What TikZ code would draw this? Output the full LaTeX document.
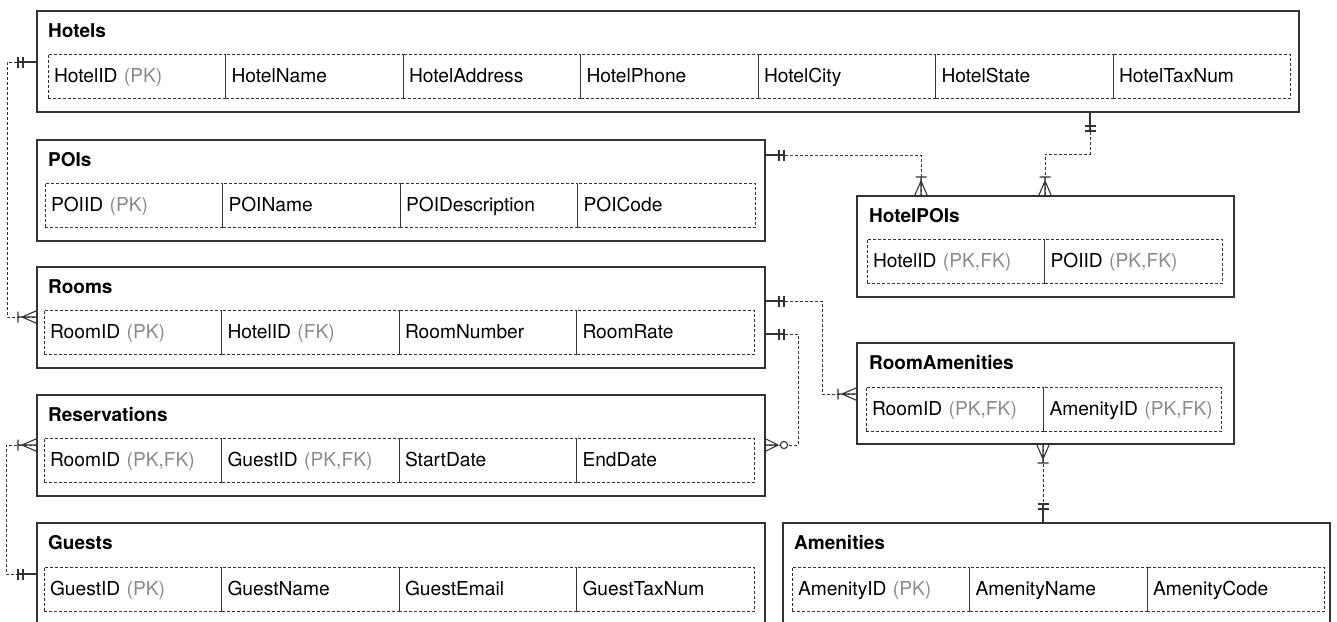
\documentclass[tikz,border=0pt]{standalone}
\usepackage{fontspec}
\setmainfont{TeX Gyre Heros}
\usetikzlibrary{positioning}

\definecolor{edge}{HTML}{333333}
\definecolor{keygray}{HTML}{8a8a8a}
\newcommand{\key}[1]{{\color{keygray}(#1)}}

\tikzset{
  entity/.style={draw=edge, line width=1.1pt, rectangle, anchor=north west,
    minimum width=728pt, minimum height=101pt, inner sep=0pt, outer sep=0pt},
  entname/.style={anchor=base west, inner sep=0pt, font=\fontsize{19}{22}\selectfont\bfseries},
  field/.style={draw=edge, line width=0.8pt, dash pattern=on 3pt off 2pt, rectangle,
    anchor=north west, text width=165.5pt, inner xsep=6pt, inner ysep=0pt, outer sep=0pt,
    minimum height=44pt, text height=13.6pt, text depth=0pt, align=left,
    font=\fontsize{19.2}{22}\selectfont},
  link/.style={draw=edge, line width=1pt, dash pattern=on 3pt off 2pt},
  stub/.style={draw=edge, line width=1.1pt, solid},
  exactlyone/.pic={\draw[stub] (0,0) -- (20,0) (14,-5.5) -- (14,5.5) (19,-5.5) -- (19,5.5);},
  onemany/.pic={\draw[stub] (0,0) -- (19,0) (19,-5.5) -- (19,5.5) (0,-6.5) -- (15,0) -- (0,6.5);},
  zeromany/.pic={\draw[stub] (0,0) -- (13,0) (0,-6.5) -- (13,0) -- (0,6.5);
    \draw[stub, fill=white] (19,0) circle (3.6);}
}

\begin{document}
\begin{tikzpicture}[x=1pt, y=1pt]
  \useasboundingbox (0,0) rectangle (1337,-621);

  % Hotels
  \node[entity, minimum width=1262pt] (hotels) at (37,-11) {};
  \node[entname] (hotels-name) at ([xshift=11pt, yshift=-26pt]hotels.north west) {Hotels};
  \foreach \f [count=\i from 0] in {HotelID \key{PK}, HotelName, HotelAddress, HotelPhone, HotelCity, HotelState, HotelTaxNum}
    \node[field] (hotels-\i) at ([xshift=11pt+\i*177.5pt, yshift=-43pt]hotels.north west) {\f};

  % POIs
  \node[entity] (pois) at (37,-140) {};
  \node[entname] (pois-name) at ([xshift=11pt, yshift=-26pt]pois.north west) {POIs};
  \foreach \f [count=\i from 0] in {POIID \key{PK}, POIName, POIDescription, POICode}
    \node[field] (pois-\i) at ([xshift=8pt+\i*177.5pt, yshift=-43pt]pois.north west) {\f};

  % Rooms
  \node[entity] (rooms) at (37,-267) {};
  \node[entname] (rooms-name) at ([xshift=11pt, yshift=-26pt]rooms.north west) {Rooms};
  \foreach \f [count=\i from 0] in {RoomID \key{PK}, HotelID \key{FK}, RoomNumber, RoomRate}
    \node[field] (rooms-\i) at ([xshift=7pt+\i*177.5pt, yshift=-43pt]rooms.north west) {\f};

  % Reservations
  \node[entity] (reserv) at (37,-395) {};
  \node[entname] (reserv-name) at ([xshift=11pt, yshift=-26pt]reserv.north west) {Reservations};
  \foreach \f [count=\i from 0] in {{RoomID \key{PK,FK}}, {GuestID \key{PK,FK}}, StartDate, EndDate}
    \node[field] (reserv-\i) at ([xshift=7pt+\i*177.5pt, yshift=-43pt]reserv.north west) {\f};

  % Guests
  \node[entity] (guests) at (37,-523) {};
  \node[entname] (guests-name) at ([xshift=11pt, yshift=-26pt]guests.north west) {Guests};
  \foreach \f [count=\i from 0] in {GuestID \key{PK}, GuestName, GuestEmail, GuestTaxNum}
    \node[field] (guests-\i) at ([xshift=7pt+\i*177.5pt, yshift=-44pt]guests.north west) {\f};

  % HotelPOIs
  \node[entity, minimum width=377pt] (hotelpois) at (857,-196) {};
  \node[entname] (hotelpois-name) at ([xshift=12pt, yshift=-26pt]hotelpois.north west) {HotelPOIs};
  \foreach \f [count=\i from 0] in {{HotelID \key{PK,FK}}, {POIID \key{PK,FK}}}
    \node[field] (hotelpois-\i) at ([xshift=10pt+\i*177.5pt, yshift=-43pt]hotelpois.north west) {\f};

  % RoomAmenities
  \node[entity, minimum width=377pt] (roomamen) at (857,-343) {};
  \node[entname] (roomamen-name) at ([xshift=12pt, yshift=-26pt]roomamen.north west) {RoomAmenities};
  \foreach \f [count=\i from 0] in {{RoomID \key{PK,FK}}, {AmenityID \key{PK,FK}}}
    \node[field] (roomamen-\i) at ([xshift=9pt+\i*177.5pt, yshift=-44pt]roomamen.north west) {\f};

  % Amenities
  \node[entity, minimum width=547pt] (amenities) at (783,-523) {};
  \node[entname] (amenities-name) at ([xshift=11pt, yshift=-26pt]amenities.north west) {Amenities};
  \foreach \f [count=\i from 0] in {AmenityID \key{PK}, AmenityName, AmenityCode}
    \node[field] (amenities-\i) at ([xshift=9pt+\i*177.5pt, yshift=-44pt]amenities.north west) {\f};

  % Hotels -> Rooms
  \draw[link] ([yshift=-51pt]hotels.north west) -- ++(-30,0) |- ([yshift=-50pt]rooms.north west);
  \pic[rotate=180] at ([yshift=-51pt]hotels.north west) {exactlyone};
  \pic[rotate=180] at ([yshift=-50pt]rooms.north west) {onemany};

  % Hotels -> HotelPOIs
  \coordinate (hotels-out) at ([xshift=1053pt]hotels.south west);
  \coordinate (hp-left) at ([xshift=188pt]hotelpois.north west);
  \draw[link] (hotels-out) -- ++(0,-42) -| (hp-left);
  \pic[rotate=-90] at (hotels-out) {exactlyone};
  \pic[rotate=90] at (hp-left) {onemany};

  % POIs -> HotelPOIs
  \coordinate (pois-out) at ([yshift=-15pt]pois.north east);
  \coordinate (hp-right) at ([xshift=64pt]hotelpois.north west);
  \draw[link] (pois-out) -| (hp-right);
  \pic at (pois-out) {exactlyone};
  \pic[rotate=90] at (hp-right) {onemany};

  % Rooms -> RoomAmenities
  \coordinate (rooms-out1) at ([yshift=-34pt]rooms.north east);
  \coordinate (ra-in) at ([yshift=-51pt]roomamen.north west);
  \draw[link] (rooms-out1) -- ++(57,0) |- (ra-in);
  \pic at (rooms-out1) {exactlyone};
  \pic[rotate=180] at (ra-in) {onemany};

  % Rooms -> Reservations
  \coordinate (rooms-out2) at ([yshift=-67pt]rooms.north east);
  \coordinate (res-in) at ([yshift=-50pt]reserv.north east);
  \draw[link] (rooms-out2) -- ++(33,0) |- (res-in);
  \pic at (rooms-out2) {exactlyone};
  \pic at (res-in) {zeromany};

  % Guests -> Reservations
  \coordinate (res-out) at ([yshift=-50pt]reserv.north west);
  \coordinate (guests-out) at ([yshift=-51pt]guests.north west);
  \draw[link] (res-out) -- ++(-31,0) |- (guests-out);
  \pic[rotate=180] at (res-out) {onemany};
  \pic[rotate=180] at (guests-out) {exactlyone};

  % RoomAmenities -> Amenities
  \coordinate (ra-out) at ([xshift=186pt]roomamen.south west);
  \draw[link] (ra-out) -- (ra-out |- amenities.north);
  \pic[rotate=-90] at (ra-out) {onemany};
  \pic[rotate=90] at (ra-out |- amenities.north) {exactlyone};
\end{tikzpicture}
\end{document}
